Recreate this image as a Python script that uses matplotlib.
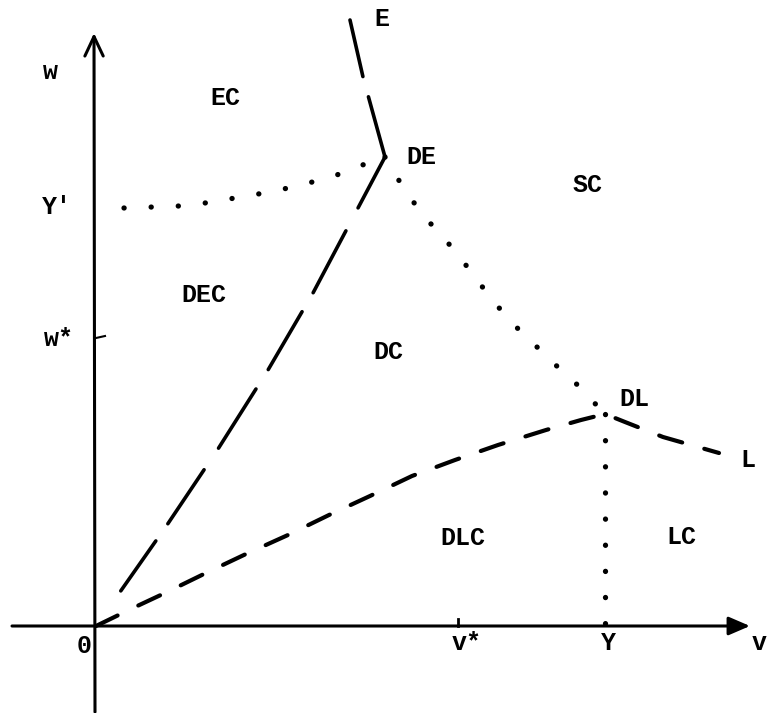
import matplotlib
matplotlib.use('Agg')
import matplotlib.pyplot as plt

# boundary curves (origin at O)
# E line: from E down to the DE corner, then on to O
ex = [254, 267, 289, 262, 217, 172, 122, 71, 24, 0]
ey = [606, 549, 469, 418, 333, 256, 177, 101, 34, 0]

# lower dashed curve: O up to DL, then on to L
lx = [0, 37, 69, 112, 150, 192, 233, 274, 316, 359, 402, 450, 485, 509, 529, 567, 623]
ly = [0, 18, 33, 54, 72, 91, 111, 130, 150, 166, 181, 196, 206, 212, 204, 189, 173]

# dotted curve from Y' to DE
yx = [28, 57, 83, 109, 139, 168, 197, 224, 247, 269, 289]
yy = [418, 419, 420, 423, 428, 433, 439, 446, 453, 462, 469]

# dotted curve from DE to DL
dx = [289, 300, 314, 328, 344, 361, 377, 393, 410, 426, 441, 457, 472, 488, 509]
dy = [469, 450, 429, 409, 393, 372, 352, 330, 310, 293, 279, 263, 251, 234, 212]

# vertical dotted line from DL to Y
vx = [509, 509]
vy = [212, 0]

wstar = 288
vstar = 362

region_labels = ['EC', 'E', 'DE', 'SC', 'DEC', 'DC', 'DL', 'L', 'DLC', 'LC']
region_x = [129, 286, 325, 492, 108, 292, 538, 652, 367, 585]
region_y = [528, 607, 469, 441, 331, 274, 227, 166, 88, 89]

axis_labels = ['w', "Y'", 'w*', '0', 'v*', 'Y', 'v']
axis_x = [-46, -39, -37, -12, 371, 512, 663]
axis_y = [554, 419, 287, -20, -17, -17, -17]

plt.rcParams['lines.scale_dashes'] = False
plt.rcParams['font.family'] = ['Liberation Mono', 'DejaVu Sans Mono']

px = 0.72  # points per pixel at dpi 100

fig = plt.figure(figsize=(7.67, 7.13), dpi=100)
ax = fig.add_axes([0, 0, 1, 1])
ax.set_xlim(-96, 671)
ax.set_ylim(-87, 626)
ax.axis('off')

# axes with arrows
ax.annotate('', xy=(654, 0), xytext=(-84, 0),
            arrowprops=dict(arrowstyle='-|>,head_length=0.65,head_width=0.28',
                            mutation_scale=20, lw=2.2, color='black',
                            shrinkA=0, shrinkB=0))
ax.annotate('', xy=(-2, 593), xytext=(-1, -86),
            arrowprops=dict(arrowstyle='->,head_length=0.7,head_width=0.33',
                            mutation_scale=20, lw=2.2, color='black',
                            shrinkA=0, shrinkB=0))

# small ticks for w* and v*
ax.plot([0, 9], [wstar, wstar + 2], color='black', lw=1.5)
ax.plot([vstar, vstar], [0, 7], color='black', lw=2)

# long-dash line E - DE - O
e_dash = [58, 21, 120, 26, 70, 22, 67, 23, 70, 26, 65, 21, 61, 45]
ax.plot(ex, ey, color='black', lw=2.6, solid_capstyle='round',
        dash_capstyle='round', dashes=[d * px for d in e_dash])

# short-dash curve O - DL - L
ax.plot(lx, ly, color='black', lw=3.0, dash_capstyle='round',
        dashes=(24 * px, 23 * px))

# dotted lines
dots = (0.1, 27 * px)
ax.plot(yx, yy, color='black', lw=3.8, dash_capstyle='round', dashes=dots)
ax.plot(dx, dy, color='black', lw=3.8, dash_capstyle='round', dashes=dots)
ax.plot(vx, vy, color='black', lw=3.8, dash_capstyle='round',
        dashes=(0.1, 26 * px))

for t, x, y in zip(region_labels, region_x, region_y):
    ax.text(x, y, t, ha='center', va='center', fontsize=18, fontweight='bold')

for t, x, y in zip(axis_labels, axis_x, axis_y):
    ax.text(x, y, t, ha='center', va='center', fontsize=18, fontweight='bold')

fig.savefig('out.png', dpi=100)
